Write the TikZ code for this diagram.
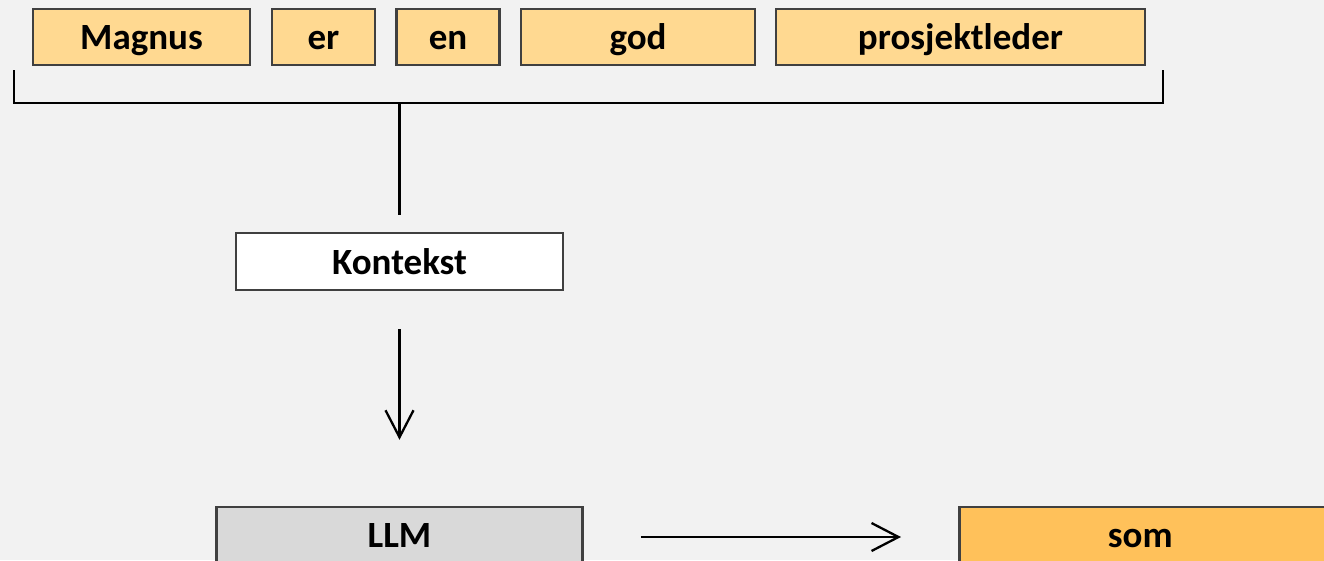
\documentclass[tikz,border=0pt]{standalone}
\usepackage{fontspec}
\setmainfont{Carlito}
\usetikzlibrary{arrows.meta,calc}
\definecolor{bgcol}{HTML}{F2F2F2}
\definecolor{tokcol}{HTML}{FFD991}
\definecolor{outcol}{HTML}{FFC15A}
\definecolor{llmcol}{HTML}{D9D9D9}
\definecolor{edgecol}{HTML}{404040}
\tikzset{
  box/.style={draw=edgecol, line width=2.5pt, inner sep=0pt, minimum height=56pt,
    text height=25pt, text depth=0pt,
    font=\fontsize{37}{44}\selectfont\bfseries, text=black},
  token/.style={box, fill=tokcol},
  wire/.style={line width=2.3pt, black},
  flow/.style={wire, -{Straight Barb[length=27pt, width=28pt, line width=2.3pt]}},
}
\begin{document}
\begin{tikzpicture}[x=1pt, y=-1pt]
  \clip (0,0) rectangle (1324,560);
  \fill[bgcol] (0,0) rectangle (1324,560);

  % input tokens
  \node[token, minimum width=217pt] (magnus) at (141.5,37) {Magnus};
  \node[token, minimum width=103pt] (er) at (323.5,37) {er};
  \node[token, minimum width=103pt] (en) at (448,37) {en};
  \node[token, minimum width=234pt] (god) at (638,37) {god};
  \node[token, minimum width=369pt] (leder) at (960.5,37) {prosjektleder};

  % bracket gathering the tokens
  \coordinate (bl) at (14,70);
  \coordinate (br) at (1163,70);
  \coordinate (bmid) at (399.5,103);
  \draw[wire] (bl) |- (bmid) -| (br);

  % context, model and output
  \node[box, fill=white, minimum width=327pt, minimum height=57pt] (ctx) at (399.5,261.5) {Kontekst};
  \node[box, fill=llmcol, minimum width=366pt] (llm) at (399.5,535) {LLM};
  \node[box, fill=outcol, minimum width=380pt, anchor=west] (som) at (958,535) {\hspace*{-18pt}som};

  % connector end points, kept clear of the boxes
  \coordinate (ctxin) at ($(ctx.north)+(0,-17)$);
  \coordinate (ctxout) at ($(ctx.south)+(0,38)$);
  \coordinate (llmin) at ($(llm.north)+(0,-66)$);
  \coordinate (llmout) at ($(llm.east)+(57,2)$);
  \coordinate (somin) at ($(som.west)+(-57,2)$);

  \draw[wire] (bmid) -- (ctxin);
  \draw[flow] (ctxout) -- (llmin);
  \draw[flow] (llmout) -- (somin);
\end{tikzpicture}
\end{document}
